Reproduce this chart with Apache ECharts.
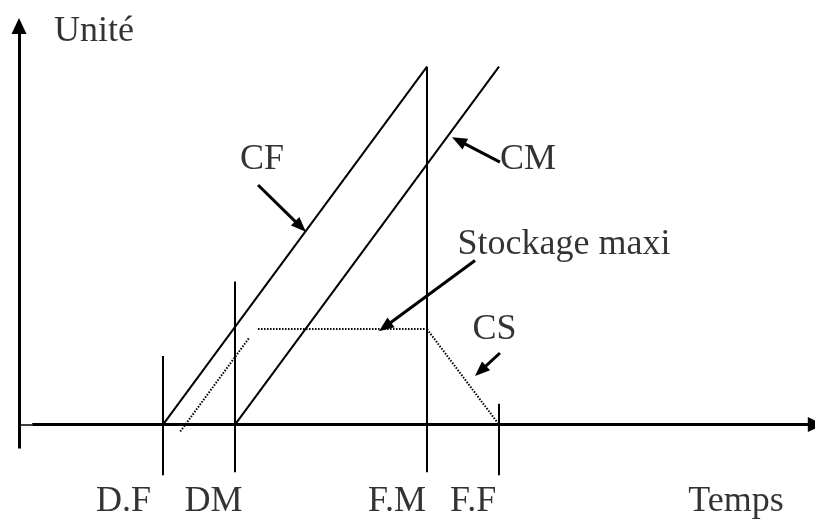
<!DOCTYPE html>
<html lang="fr">
<head>
    <meta charset="UTF-8">
    <title>CF CM CS</title>
    <script src="https://cdn.jsdelivr.net/npm/echarts@6/dist/echarts.min.js"></script>
    <style>
        body { margin: 0; background: #fff; }
        #main { width: 815px; height: 520px; }
    </style>
</head>
<body>
    <div id="main"></div>

    <script>
        // repères sur l'axe du temps (unités arbitraires)
        const markNames = ['D.F', 'DM', 'F.M', 'F.F'];
        const markTimes = [6, 9, 17, 20];
        const markLow = [-2.125, -2, -2, -2.125];
        const markHigh = [2.875, 6, 15, 0.875];

        // courbes CF et CM
        const cfLine = [[6, 0], [17, 15]];
        const cmLine = [[9, 0], [20, 15]];

        // courbe de stockage CS (pointillés)
        const csRise = [[6.72, -0.29], [9.6, 3.65]];
        const csLevel = [[9.96, 4], [17, 4]];
        const csFall = [[17, 4], [20, 0]];

        // axes (avec flèche)
        const axisY = [[0, -1], [0, 16.71]];
        const axisX = [[0.55, 0], [33.2, 0]];
        const axisXStub = [[0, 0], [0.55, 0]];

        // flèches des annotations
        const pointers = [
            [[9.96, 10.04], [11.73, 8.30]],   // CF
            [[20.04, 11.0], [18.32, 11.90]],  // CM
            [[19.0, 6.875], [15.25, 4.10]],   // Stockage maxi
            [[20.04, 3.0], [19.23, 2.25]]     // CS
        ];

        // textes
        const labelNames = ['Unité', 'CF', 'CM', 'Stockage maxi', 'CS', 'D.F', 'DM', 'F.M', 'F.F', 'Temps'];
        const labelX = [3.125, 10.125, 21.21, 22.71, 19.81, 4.35, 8.1, 15.75, 18.92, 29.875];
        const labelY = [16.48, 11.09, 11.11, 7.53, 3.98, -3.24, -3.24, -3.24, -3.24, -3.24];

        const serif = "'Liberation Serif', 'Times New Roman', serif";

        const markSegs = markTimes.map(function (t, i) {
            return { name: markNames[i], coords: [[t, markLow[i]], [t, markHigh[i]]] };
        });

        function seg(coords) { return { coords: coords }; }

        const option = {
            backgroundColor: '#fff',
            animation: false,
            grid: { left: 19, top: 19, width: 796, height: 504 },
            xAxis: { type: 'value', min: 0, max: 33.1667, show: false },
            yAxis: { type: 'value', min: -4, max: 17, show: false },
            series: [
                {
                    type: 'lines',
                    coordinateSystem: 'cartesian2d',
                    silent: true,
                    clip: false,
                    lineStyle: { color: '#000', width: 2, opacity: 1 },
                    data: [seg(cfLine), seg(cmLine)].concat(markSegs)
                },
                {
                    type: 'lines',
                    coordinateSystem: 'cartesian2d',
                    silent: true,
                    clip: false,
                    lineStyle: { color: '#000', width: 2, type: [1.5, 1.5], opacity: 1 },
                    data: [seg(csRise), seg(csLevel), seg(csFall)]
                },
                {
                    type: 'lines',
                    coordinateSystem: 'cartesian2d',
                    silent: true,
                    clip: false,
                    lineStyle: { color: '#000', width: 1.5, opacity: 1 },
                    data: [seg(axisXStub)]
                },
                {
                    type: 'lines',
                    coordinateSystem: 'cartesian2d',
                    silent: true,
                    clip: false,
                    symbol: ['none', 'triangle'],
                    symbolSize: [0, [15, 16]],
                    lineStyle: { color: '#000', width: 3, opacity: 1 },
                    data: [seg(axisY), seg(axisX)]
                },
                {
                    type: 'lines',
                    coordinateSystem: 'cartesian2d',
                    silent: true,
                    clip: false,
                    symbol: ['none', 'triangle'],
                    symbolSize: [0, [12, 15]],
                    lineStyle: { color: '#000', width: 3, opacity: 1 },
                    data: pointers.map(seg)
                },
                {
                    type: 'scatter',
                    silent: true,
                    clip: false,
                    symbolSize: 1,
                    itemStyle: { color: 'rgba(0,0,0,0)' },
                    label: {
                        show: true,
                        position: 'inside',
                        formatter: '{b}',
                        color: '#000',
                        fontSize: 36,
                        fontFamily: serif
                    },
                    data: labelNames.map(function (n, i) {
                        return { name: n, value: [labelX[i], labelY[i]] };
                    })
                }
            ]
        };

        var myChart = echarts.init(document.getElementById('main'));
        myChart.setOption(option);
    </script>
</body>
</html>
